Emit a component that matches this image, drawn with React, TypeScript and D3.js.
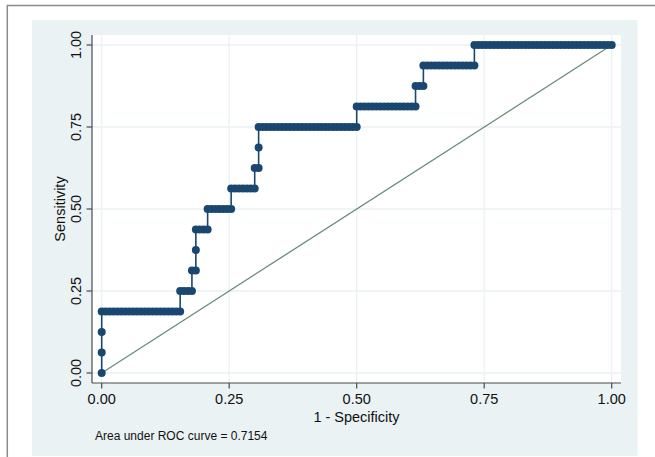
import React from "react";
import * as d3 from "d3";

// ROC data: 16 positives, 130 negatives.
// Each entry: true-positive count, and the run of false-positive counts it spans.
const nPositives = 16;
const nNegatives = 130;
const tpCounts = [0, 1, 2, 3, 4, 5, 6, 7, 8, 9, 10, 11, 12, 13, 14, 15, 16];
const fpFrom = [0, 0, 0, 0, 20, 23, 24, 24, 27, 33, 39, 40, 40, 65, 80, 82, 95];
const fpTo = [0, 0, 0, 20, 23, 24, 24, 27, 33, 39, 40, 40, 65, 80, 82, 95, 130];

const xTicks = [0, 0.25, 0.5, 0.75, 1];
const yTicks = [0, 0.25, 0.5, 0.75, 1];
const xTitle = "1 - Specificity";
const yTitle = "Sensitivity";
const aucNote = "Area under ROC curve = 0.7154";

const W = 655;
const H = 457;

export default function App() {
  const x = d3.scaleLinear().domain([0, 1]).range([101.7, 611.7]);
  const y = d3.scaleLinear().domain([0, 1]).range([373, 45]);

  const pts: [number, number][] = [];
  tpCounts.forEach((tp, i) => {
    for (let k = fpFrom[i]; k <= fpTo[i]; k++) {
      pts.push([k / nNegatives, tp / nPositives]);
    }
  });

  const line = d3
    .line<[number, number]>()
    .x((d) => x(d[0]))
    .y((d) => y(d[1]));

  const plotL = 92;
  const plotR = 621;
  const plotT = 35;
  const plotB = 383;
  const font = "'Liberation Sans', Arial, Helvetica, sans-serif";
  const fmt = d3.format(".2f");
  const axisColor = "#4a4a4a";
  const fs = 14.5;

  return (
    <svg
      width={W}
      height={H}
      style={{ position: "absolute", left: 0, top: 0 }}
      fontFamily={font}
    >
      <rect x={0} y={0} width={W} height={H} fill="#ffffff" />
      {/* outer frame */}
      <line x1={7} y1={5.5} x2={W} y2={5.5} stroke="#8a8a8a" strokeWidth={1.5} />
      <line x1={7.3} y1={5} x2={7.3} y2={H} stroke="#8a8a8a" strokeWidth={1.5} />
      {/* graph region */}
      <rect x={32} y={20} width={605.5} height={436} fill="#eaf2f3" />
      {/* plot region */}
      <rect x={plotL} y={plotT} width={plotR - plotL} height={plotB - plotT} fill="#ffffff" />
      {/* gridlines */}
      {xTicks.map((t) => (
        <line key={"gx" + t} x1={x(t)} x2={x(t)} y1={plotT} y2={plotB} stroke="#eaf2f3" strokeWidth={1.3} />
      ))}
      {yTicks.map((t) => (
        <line key={"gy" + t} x1={plotL} x2={plotR} y1={y(t)} y2={y(t)} stroke="#eaf2f3" strokeWidth={1.3} />
      ))}
      {/* reference diagonal */}
      <line x1={x(0)} y1={y(0)} x2={x(1)} y2={y(1)} stroke="#6a8c7a" strokeWidth={1.3} />
      {/* ROC line */}
      <path d={line(pts) || ""} fill="none" stroke="#1a476f" strokeWidth={1.6} />
      {pts.map((d, i) => (
        <circle key={i} cx={x(d[0])} cy={y(d[1])} r={4} fill="#1a476f" />
      ))}
      {/* axes */}
      <line x1={plotL} x2={plotL} y1={plotT} y2={plotB} stroke={axisColor} strokeWidth={1.2} />
      <line x1={plotL} x2={plotR} y1={plotB} y2={plotB} stroke={axisColor} strokeWidth={1.2} />
      {yTicks.map((t) => (
        <g key={"ty" + t}>
          <line x1={plotL - 5.5} x2={plotL} y1={y(t)} y2={y(t)} stroke={axisColor} strokeWidth={1.2} />
          <text
            transform={`translate(80.5,${y(t)}) rotate(-90)`}
            textAnchor="middle"
            fontSize={fs}
            fill="#111"
          >
            {fmt(t)}
          </text>
        </g>
      ))}
      {xTicks.map((t) => (
        <g key={"tx" + t}>
          <line x1={x(t)} x2={x(t)} y1={plotB} y2={plotB + 5.5} stroke={axisColor} strokeWidth={1.2} />
          <text x={x(t)} y={403.5} textAnchor="middle" fontSize={fs} fill="#111">
            {fmt(t)}
          </text>
        </g>
      ))}
      <text x={(plotL + plotR) / 2} y={421.5} textAnchor="middle" fontSize={fs} fill="#111">
        {xTitle}
      </text>
      <text
        transform={`translate(64.5,${(plotT + plotB) / 2}) rotate(-90)`}
        textAnchor="middle"
        fontSize={fs}
        fill="#111"
      >
        {yTitle}
      </text>
      <text x={95} y={440} fontSize={12} fill="#111">
        {aucNote}
      </text>
    </svg>
  );
}
